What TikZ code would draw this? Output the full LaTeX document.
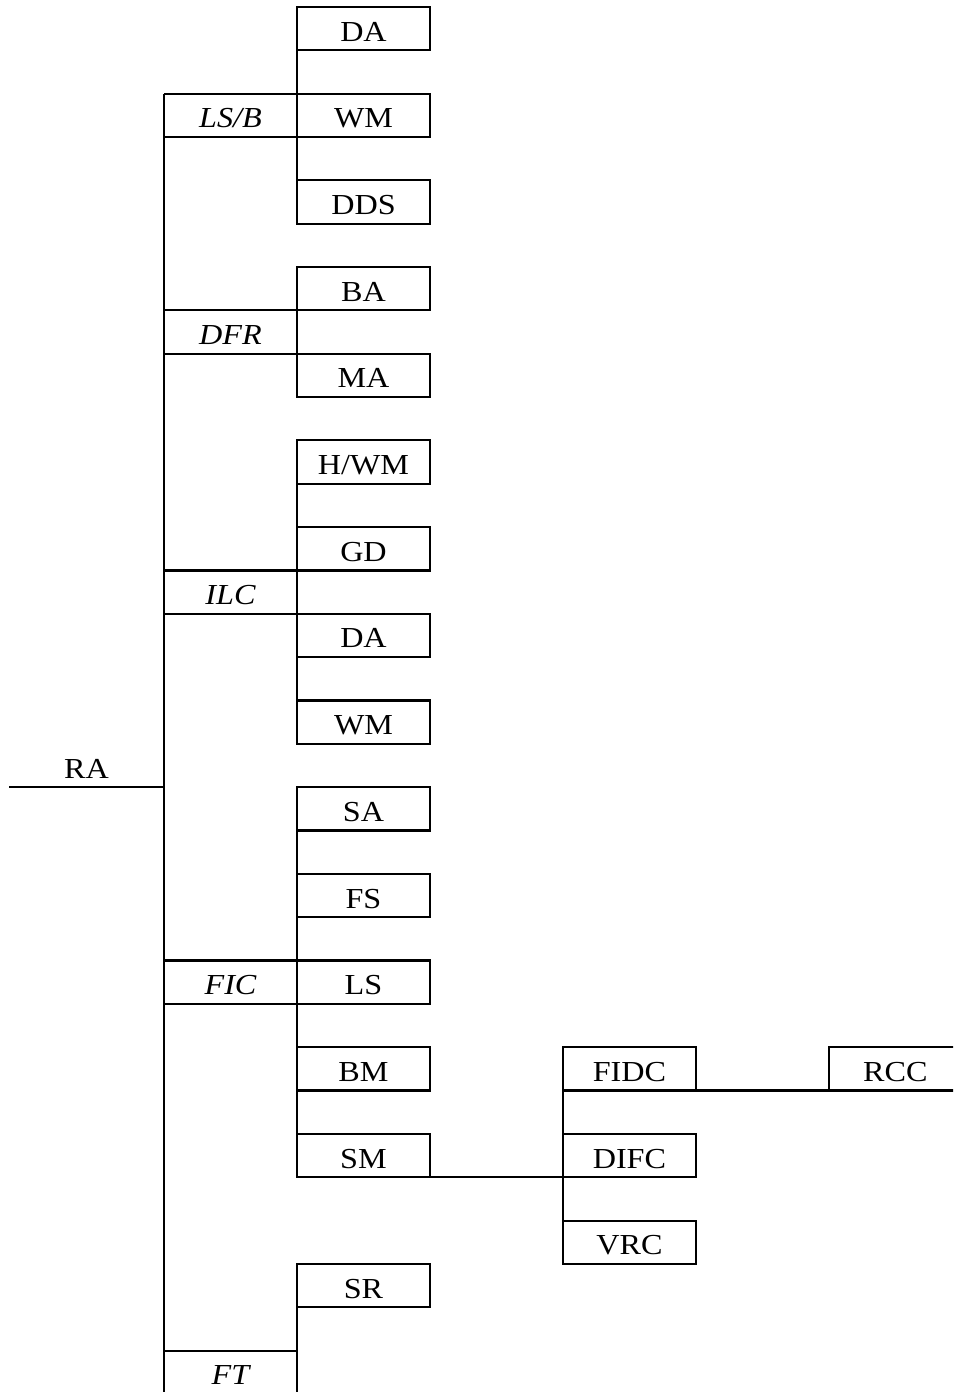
\documentclass[tikz,border=0pt]{standalone}
\usepackage{fontspec}
\setmainfont{Liberation Serif}[FakeStretch=1.11]
\usepackage{tikz}
\usetikzlibrary{positioning}

\begin{document}
\begin{tikzpicture}[
    x=0.02cm, y=-0.02cm,
    line width=1.2pt,
    node distance=0.867cm,
    item/.style={rectangle, draw, minimum width=2.66cm, minimum height=0.867cm, inner sep=0pt, outer sep=0pt, text height=0.5cm, text depth=0pt, font=\fontsize{16.5}{19}\selectfont},
    group/.style={item, draw=none, font=\fontsize{16.5}{19}\selectfont\itshape},
]
\path[use as bounding box, clip] (0,0) rectangle (953,1392);

\node[item, anchor=north west] (da1) at (297,7) {DA};
\node[item, below=of da1] (wm1) {WM};
\node[item, below=of wm1] (dds) {DDS};
\node[item, below=of dds] (ba) {BA};
\node[item, below=of ba] (ma) {MA};
\node[item, below=of ma] (hwm) {H/WM};
\node[item, below=of hwm] (gd) {GD};
\node[item, below=of gd] (da2) {DA};
\node[item, below=of da2] (wm2) {WM};
\node[item, below=of wm2] (sa) {SA};
\node[item, below=of sa] (fs) {FS};
\node[item, below=of fs] (ls) {LS};
\node[item, below=of ls] (bm) {BM};
\node[item, below=of bm] (sm) {SM};
\node[item, below=1.734cm of sm] (sr) {SR};

\node[item, right=2.66cm of bm] (fidc) {FIDC};
\node[item, below=of fidc] (difc) {DIFC};
\node[item, below=of difc] (vrc) {VRC};
\node[item, right=2.66cm of fidc] (rcc) {RCC};

\node[group, left=0pt of wm1] (lsb) {LS/B};
\node[group, anchor=north east] (dfr) at (ba.south west) {DFR};
\node[group, anchor=north east] (ilc) at (gd.south west) {ILC};
\node[group, left=0pt of ls] (fic) {FIC};
\node[group, anchor=north east] (ft) at ([yshift=-0.867cm]sr.south west) {FT};
\node[item, draw=none, minimum width=3.1cm, text height=0.52cm, anchor=south west] (ra) at (9,787) {RA};

\draw (lsb.north west) -- (ft.south west);
\draw (ra.south west) -- (ra.south west -| lsb.west);
\foreach \g in {lsb, dfr, ilc, fic, ft} {
    \draw (\g.north west) -- (\g.north east);
    \draw (\g.south west) -- (\g.south east);
}

\draw (da1.south west) -- (dds.north west);
\draw (ba.south west) -- (ma.north west);
\draw (hwm.south west) -- (wm2.north west);
\draw (sa.south west) -- (sm.north west);
\draw (sr.south west) -- (ft.south east);

\draw (sm.south east) -- (difc.south west);
\draw (fidc.south west) -- (vrc.north west);
\draw (fidc.south east) -- (rcc.south west);
\end{tikzpicture}
\end{document}
